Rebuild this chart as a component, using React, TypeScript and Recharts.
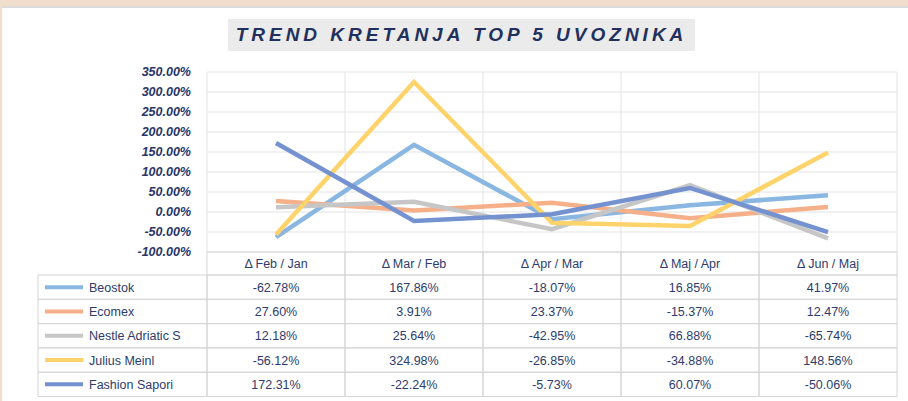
import { LineChart, Line, XAxis, YAxis, CartesianGrid } from 'recharts';

const CATEGORIES = ['Δ Feb / Jan', 'Δ Mar / Feb', 'Δ Apr / Mar', 'Δ Maj / Apr', 'Δ Jun / Maj'];
const Y_TICKS = [-100, -50, 0, 50, 100, 150, 200, 250, 300, 350];

const BEOSTOK = [-62.78, 167.86, -18.07, 16.85, 41.97];
const ECOMEX = [27.6, 3.91, 23.37, -15.37, 12.47];
const NESTLE = [12.18, 25.64, -42.95, 66.88, -65.74];
const JULIUS = [-56.12, 324.98, -26.85, -34.88, 148.56];
const FASHION = [172.31, -22.24, -5.73, 60.07, -50.06];

const SERIES = [
  { key: 'beostok', name: 'Beostok', values: BEOSTOK, color: '#8ab6e2' },
  { key: 'ecomex', name: 'Ecomex', values: ECOMEX, color: '#f5b089' },
  { key: 'nestle', name: 'Nestle Adriatic S', values: NESTLE, color: '#c6c6c6' },
  { key: 'julius', name: 'Julius Meinl', values: JULIUS, color: '#fed36c' },
  { key: 'fashion', name: 'Fashion Sapori', values: FASHION, color: '#7592d0' },
];

const data = CATEGORIES.map((cat, i) => {
  const row: Record<string, string | number> = { cat };
  SERIES.forEach((s) => { row[s.key] = s.values[i]; });
  return row;
});

// layout
const W = 908;
const H = 401;
const PLOT_LEFT = 207;
const PLOT_RIGHT = 897;
const PLOT_TOP = 72;
const PLOT_BOTTOM = 252;
const Y_AXIS_W = 80;
const X_AXIS_H = 146;
const COL_W = (PLOT_RIGHT - PLOT_LEFT) / CATEGORIES.length;
const TABLE_LEFT = 38;
const HEAD_H = 23;
const ROW_H = 24.3;
const NAVY = '#2d3c6c';
const LINE_GRID = '#e3e3e3';
const LINE_TABLE = '#d6d6d6';
const FONT = '"Liberation Sans", Arial, sans-serif';

const fmt = (v: number) => `${v.toFixed(2)}%`;

function TableColumn(props: any) {
  const { x, payload } = props;
  const i: number = payload.index ?? props.index ?? 0;
  const left = x - COL_W / 2;
  const top = PLOT_BOTTOM;
  return (
    <g>
      <rect x={left} y={top} width={COL_W} height={HEAD_H} fill="none" stroke={LINE_TABLE} />
      <text x={x} y={top + HEAD_H / 2 + 4} textAnchor="middle" fontSize={12.5} fill={NAVY} fontFamily={FONT}>
        {payload.value}
      </text>
      {SERIES.map((s, r) => {
        const ry = top + HEAD_H + r * ROW_H;
        return (
          <g key={s.key}>
            <rect x={left} y={ry} width={COL_W} height={ROW_H} fill="none" stroke={LINE_TABLE} />
            <text x={x} y={ry + ROW_H / 2 + 4.5} textAnchor="middle" fontSize={12.5} fill={NAVY} fontFamily={FONT}>
              {fmt(s.values[i])}
            </text>
            {i === 0 && (
              <g>
                <rect x={TABLE_LEFT} y={ry} width={PLOT_LEFT - TABLE_LEFT} height={ROW_H} fill="none" stroke={LINE_TABLE} />
                <line x1={45} x2={83} y1={ry + ROW_H / 2} y2={ry + ROW_H / 2} stroke={s.color} strokeWidth={4} />
                <text x={89} y={ry + ROW_H / 2 + 4.5} fontSize={12.5} fill={NAVY} fontFamily={FONT}>
                  {s.name}
                </text>
              </g>
            )}
          </g>
        );
      })}
    </g>
  );
}

export default function App() {
  return (
    <div style={{ position: 'absolute', left: 0, top: 0, width: W, height: H, background: '#f0ddcb', overflow: 'hidden' }}>
      <div style={{ position: 'absolute', left: 2, top: 6, width: W - 2, height: H - 6, background: '#fff', borderTop: '2px solid #dcdcdc', boxSizing: 'border-box' }} />
      <div style={{
        position: 'absolute', left: 228, top: 19, width: 467, height: 32, background: '#ebebeb',
        display: 'flex', alignItems: 'center', justifyContent: 'center',
        fontFamily: FONT, fontWeight: 700, fontStyle: 'italic', fontSize: 19, letterSpacing: 4, color: '#22305e',
      }}>
        TREND KRETANJA TOP 5 UVOZNIKA
      </div>
      <div style={{ position: 'absolute', left: 0, top: 0 }}>
        <LineChart
          width={W}
          height={H}
          data={data}
          margin={{ top: PLOT_TOP, right: W - PLOT_RIGHT, bottom: H - PLOT_BOTTOM - X_AXIS_H, left: PLOT_LEFT - Y_AXIS_W }}
        >
          <CartesianGrid
            stroke={LINE_GRID}
            verticalCoordinatesGenerator={({ offset }: any) =>
              Array.from({ length: CATEGORIES.length + 1 }, (_, k) => offset.left + (k * offset.width) / CATEGORIES.length)
            }
          />
          <XAxis
            dataKey="cat"
            height={X_AXIS_H}
            axisLine={false}
            tickLine={false}
            interval={0}
            padding={{ left: COL_W / 2, right: COL_W / 2 }}
            tick={<TableColumn />}
          />
          <YAxis
            width={Y_AXIS_W}
            domain={[-100, 350]}
            ticks={Y_TICKS}
            interval={0}
            axisLine={false}
            tickLine={false}
            tickMargin={10}
            tickFormatter={fmt}
            tick={{ fontSize: 12.5, fontWeight: 700, fontStyle: 'italic', fill: '#27356a', fontFamily: FONT }}
          />
          {SERIES.map((s) => (
            <Line
              key={s.key}
              dataKey={s.key}
              name={s.name}
              stroke={s.color}
              strokeWidth={4.5}
              dot={false}
              isAnimationActive={false}
            />
          ))}
        </LineChart>
      </div>
    </div>
  );
}
